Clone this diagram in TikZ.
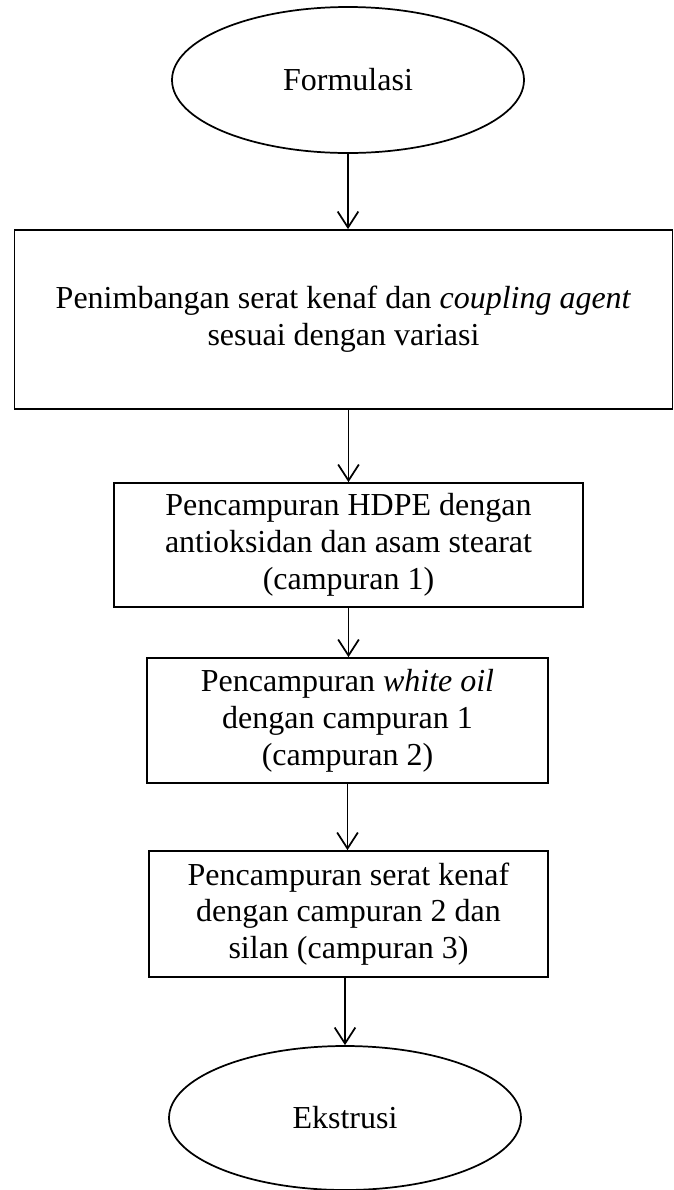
\documentclass[tikz,border=0pt]{standalone}
\usepackage{fontspec}
\setmainfont{Liberation Serif}
\usetikzlibrary{shapes.geometric,arrows.meta}
\begin{document}
\begin{tikzpicture}[x=0.75pt,y=-0.75pt,
  every node/.style={font=\fontsize{24}{27.6}\selectfont, align=center, inner sep=0pt},
  procbox/.style={draw, line width=1.3pt, rectangle},
  termnode/.style={draw, line width=1.3pt, ellipse},
  flow/.style={line width=1.3pt, -{Straight Barb[length=12pt,width=15.5pt,line width=1.3pt]}}]
\useasboundingbox (0,0) rectangle (674,1190);
\node[termnode, minimum width=352*0.75pt, minimum height=146*0.75pt] (e1) at (348,80) {Formulasi};
\node[procbox, minimum width=658*0.75pt, minimum height=179*0.75pt] (b1) at (343.5,319.5)
  {Penimbangan serat kenaf dan \textit{coupling agent}\\ sesuai dengan variasi};
\node[procbox, minimum width=469*0.75pt, minimum height=124*0.75pt] (b2) at (348.5,545)
  {Pencampuran HDPE dengan\\ antioksidan dan asam stearat\\ (campuran 1)};
\node[procbox, minimum width=401*0.75pt, minimum height=125*0.75pt] (b3) at (347.5,720.5)
  {Pencampuran \textit{white oil}\\ dengan campuran 1\\ (campuran 2)};
\node[procbox, minimum width=399*0.75pt, minimum height=126*0.75pt] (b4) at (348.5,914)
  {Pencampuran serat kenaf\\ dengan campuran 2 dan\\ silan (campuran 3)};
\node[termnode, minimum width=352*0.75pt, minimum height=144*0.75pt] (e2) at (345,1118) {Ekstrusi};
\draw[flow] (e1.south) -- (e1.south |- b1.north);
\draw[flow] (b1.south -| b2.north) -- (b2.north);
\draw[flow] (b2.south) -- (b2.south |- b3.north);
\draw[flow] (b3.south) -- (b3.south |- b4.north);
\draw[flow] (b4.south -| e2.north) -- (e2.north);
\end{tikzpicture}
\end{document}
